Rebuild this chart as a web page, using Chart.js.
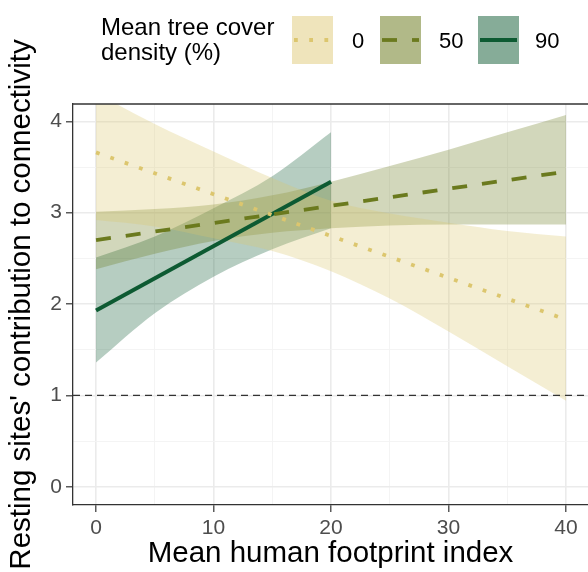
<!DOCTYPE html>
<html><head><meta charset="utf-8">
<script src="https://cdn.jsdelivr.net/npm/chart.js@4/dist/chart.umd.min.js"></script>
<style>html,body{margin:0;padding:0;background:#fff;}canvas{display:block;}</style>
</head><body>
<canvas id="c" width="588" height="572"></canvas>
<script>
// ---------- data ----------
const seriesNames = ['0', '50', '90'];
const legendTitle = ['Mean tree cover', 'density (%)'];
const xTitle = 'Mean human footprint index';
const yTitle = "Resting sites' contribution to connectivity";

const xTicks = [0, 5, 10, 15, 20, 25, 30, 35, 40];
const xLabels = [0, 10, 20, 30, 40];
const yTicks = [0, 0.5, 1, 1.5, 2, 2.5, 3, 3.5, 4];
const yLabels = [0, 1, 2, 3, 4];
const refLineValue = 1;

// tree cover 0 %
const ribbonX0 = [0, 5, 10, 15, 20, 25, 30, 35, 40];
const ribbonLow0 = [2.92, 2.85, 2.72, 2.58, 2.36, 2.06, 1.70, 1.32, 0.94];
const ribbonHigh0 = [4.31, 3.97, 3.67, 3.38, 3.13, 2.99, 2.89, 2.80, 2.74];
const lineX0 = [0, 40];
const lineY0 = [3.66, 1.83];

// tree cover 50 %
const ribbonX50 = [0, 5, 10, 15, 20, 25, 30, 35, 40];
const ribbonLow50 = [2.38, 2.55, 2.69, 2.78, 2.83, 2.86, 2.87, 2.87, 2.87];
const ribbonHigh50 = [3.01, 3.04, 3.09, 3.19, 3.34, 3.51, 3.69, 3.88, 4.07];
const lineX50 = [0, 40];
const lineY50 = [2.70, 3.45];

// tree cover 90 %
const ribbonX90 = [0, 5, 10, 15, 20];
const ribbonLow90 = [1.36, 1.90, 2.30, 2.60, 2.83];
const ribbonHigh90 = [2.51, 2.74, 3.05, 3.40, 3.88];
const lineX90 = [0, 20];
const lineY90 = [1.93, 3.34];

// ---------- styles ----------
const FONT = '"Liberation Sans", Arial, Helvetica, sans-serif';
const colors = ['rgb(220,198,110)', 'rgb(107,122,30)', 'rgb(13,90,50)'];
const ribbonFill = ['rgba(220,198,110,0.3)', 'rgba(107,122,30,0.3)', 'rgba(13,90,50,0.3)'];
const keyFill = ['rgba(220,198,110,0.47)', 'rgba(107,122,30,0.53)', 'rgba(13,90,50,0.5)'];
const dashes = [[3.8, 11.4], [15, 15], []];
const lineWidths = [3.8, 3.8, 4];

const pts = (xs, ys) => xs.map((x, i) => ({x: x, y: ys[i]}));
const groups = [
  {rx: ribbonX0, lo: ribbonLow0, hi: ribbonHigh0, lx: lineX0, ly: lineY0},
  {rx: ribbonX50, lo: ribbonLow50, hi: ribbonHigh50, lx: lineX50, ly: lineY50},
  {rx: ribbonX90, lo: ribbonLow90, hi: ribbonHigh90, lx: lineX90, ly: lineY90}
];

const datasets = [];
groups.forEach((g, i) => {
  datasets.push({label: 'lo' + i, data: pts(g.rx, g.lo), borderWidth: 0, borderColor: 'rgba(0,0,0,0)',
    pointRadius: 0, fill: false, cubicInterpolationMode: 'monotone', order: 2});
  datasets.push({label: 'hi' + i, data: pts(g.rx, g.hi), borderWidth: 0, borderColor: 'rgba(0,0,0,0)',
    pointRadius: 0, fill: '-1', backgroundColor: ribbonFill[i], cubicInterpolationMode: 'monotone', order: 2});
});
groups.forEach((g, i) => {
  datasets.push({label: seriesNames[i], data: pts(g.lx, g.ly), borderColor: colors[i], borderWidth: lineWidths[i],
    borderDash: dashes[i], borderCapStyle: 'butt', pointRadius: 0, fill: false, order: 0});
});

const isMajorX = v => xLabels.includes(v);
const isMajorY = v => yLabels.includes(v);

const bgPlugin = {
  id: 'bg',
  beforeDraw(chart) {
    const ctx = chart.ctx;
    ctx.save(); ctx.fillStyle = '#fff'; ctx.fillRect(0, 0, chart.width, chart.height); ctx.restore();
  }
};

const refPlugin = {
  id: 'refline',
  afterDatasetsDraw(chart) {
    const ctx = chart.ctx, a = chart.chartArea;
    const y = chart.scales.y.getPixelForValue(refLineValue);
    ctx.save();
    ctx.strokeStyle = '#333333'; ctx.lineWidth = 1.2; ctx.setLineDash([7, 5]);
    ctx.beginPath(); ctx.moveTo(a.left, y); ctx.lineTo(a.right, y); ctx.stroke();
    ctx.restore();
  }
};

const framePlugin = {
  id: 'frame',
  afterDraw(chart) {
    const ctx = chart.ctx, a = chart.chartArea;
    ctx.save();
    ctx.strokeStyle = '#333333'; ctx.lineWidth = 1.3;
    ctx.beginPath(); ctx.moveTo(a.left, a.top); ctx.lineTo(a.right + 2, a.top); ctx.stroke();
    ctx.restore();
  }
};

const legendPlugin = {
  id: 'legendCustom',
  afterDraw(chart) {
    const ctx = chart.ctx;
    ctx.save();
    ctx.fillStyle = '#000';
    ctx.font = '24px ' + FONT;
    ctx.textBaseline = 'alphabetic';
    ctx.fillText(legendTitle[0], 101, 35);
    ctx.fillText(legendTitle[1], 101, 60);
    const keyX = [292, 380, 478];
    const labelX = [352, 439, 535];
    seriesNames.forEach((name, i) => {
      ctx.fillStyle = keyFill[i];
      ctx.fillRect(keyX[i], 16, 41, 48);
      ctx.strokeStyle = colors[i];
      ctx.lineWidth = lineWidths[i];
      ctx.lineCap = 'butt';
      ctx.setLineDash(dashes[i]);
      ctx.beginPath(); ctx.moveTo(keyX[i] + 2, 40); ctx.lineTo(keyX[i] + 39, 40); ctx.stroke();
      ctx.setLineDash([]);
      ctx.fillStyle = '#000';
      ctx.font = '22px ' + FONT;
      ctx.fillText(name, labelX[i], 48);
    });
    ctx.restore();
  }
};

new Chart(document.getElementById('c'), {
  type: 'line',
  data: {datasets: datasets},
  plugins: [bgPlugin, refPlugin, framePlugin, legendPlugin],
  options: {
    responsive: false,
    animation: false,
    devicePixelRatio: 1,
    layout: {padding: {top: 104, left: 0, right: 0, bottom: 0}},
    plugins: {legend: {display: false}, tooltip: {enabled: false}},
    elements: {line: {tension: 0}},
    scales: {
      x: {
        type: 'linear', min: -1.96, max: 41.87,
        afterBuildTicks: s => { s.ticks = xTicks.map(v => ({value: v})); },
        afterFit: s => { s.height = 67; },
        ticks: {font: {size: 21, family: FONT}, color: '#4d4d4d', padding: 4, autoSkip: false, maxRotation: 0,
          callback: v => isMajorX(v) ? String(v) : ''},
        grid: {
          color: c => (c.tick && isMajorX(c.tick.value)) ? '#ebebeb' : '#f3f3f3',
          lineWidth: c => (c.tick && isMajorX(c.tick.value)) ? 1.6 : 0.9,
          tickLength: 7,
          tickColor: c => (c.tick && isMajorX(c.tick.value)) ? '#333333' : 'rgba(0,0,0,0)',
          tickWidth: 1.2
        },
        border: {display: true, color: '#333333', width: 1.3},
        title: {display: true, text: xTitle, color: '#000', font: {size: 29.5, family: FONT}, padding: {top: 0, bottom: 0}}
      },
      y: {
        type: 'linear', min: -0.2, max: 4.19,
        afterBuildTicks: s => { s.ticks = yTicks.map(v => ({value: v})); },
        afterFit: s => { s.width = 73; },
        ticks: {font: {size: 21, family: FONT}, color: '#4d4d4d', padding: 4, autoSkip: false,
          callback: v => isMajorY(v) ? String(v) : ''},
        grid: {
          color: c => (c.tick && isMajorY(c.tick.value)) ? '#ebebeb' : '#f3f3f3',
          lineWidth: c => (c.tick && isMajorY(c.tick.value)) ? 1.6 : 0.9,
          tickLength: 7,
          tickColor: c => (c.tick && isMajorY(c.tick.value)) ? '#333333' : 'rgba(0,0,0,0)',
          tickWidth: 1.2
        },
        border: {display: true, color: '#333333', width: 1.3},
        title: {display: true, text: yTitle, color: '#000', font: {size: 29.5, family: FONT}, padding: {top: 4, bottom: 0}}
      }
    }
  }
});
</script>
</body></html>
